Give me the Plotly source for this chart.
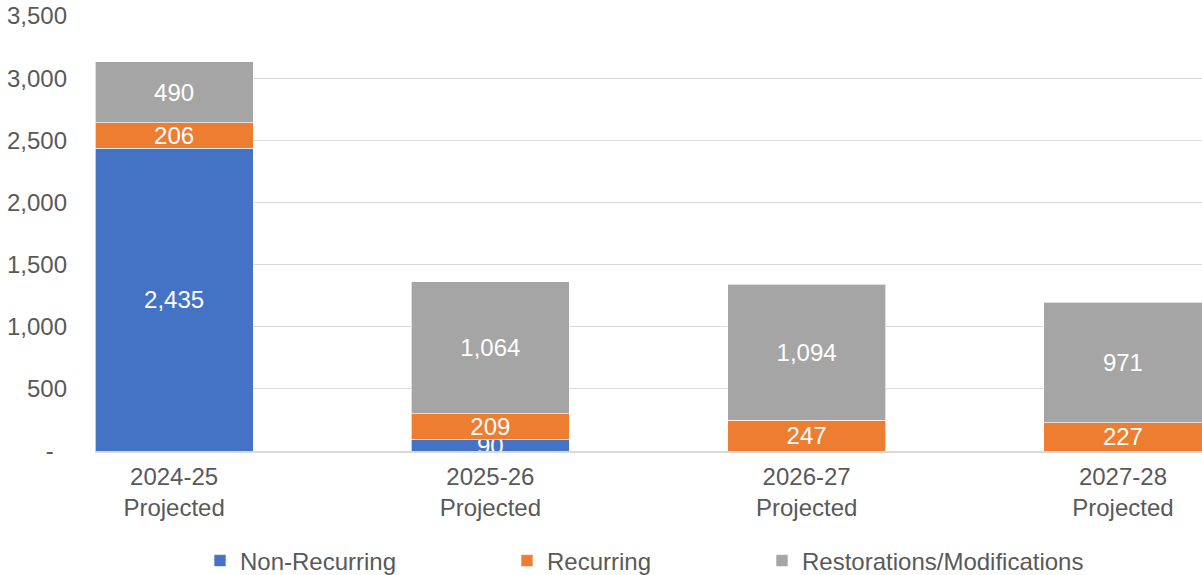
import plotly.graph_objects as go

categories = ["2024-25<br>Projected", "2025-26<br>Projected", "2026-27<br>Projected", "2027-28<br>Projected"]
non_recurring = [2435, 90, 0, 0]
recurring = [206, 209, 247, 227]
restorations = [490, 1064, 1094, 971]

series_names = ["Non-Recurring", "Recurring", "Restorations/Modifications"]
series_colors = ["#4472C4", "#ED7D31", "#A5A5A5"]
series_values = [non_recurring, recurring, restorations]

y_tickvals = [0, 500, 1000, 1500, 2000, 2500, 3000, 3500]
y_ticktext = ["-\u00a0\u00a0", "500", "1,000", "1,500", "2,000", "2,500", "3,000", "3,500"]

FONT = "Liberation Sans, Arial, sans-serif"
FS = 24
W, H = 1202, 575

legend_text_px = [238, 545, 800]
legend_names = ["legend", "legend2", "legend3"]

fig = go.Figure()
for name, color, vals, lg in zip(series_names, series_colors, series_values, legend_names):
    fig.add_trace(go.Bar(
        x=list(range(len(categories))),
        y=vals,
        name=name,
        legend=lg,
        marker=dict(color=color, line=dict(color="rgba(255,255,255,0.8)", width=0.8)),
        text=[f"{v:,}" if v else "" for v in vals],
        textposition="inside",
        insidetextanchor="middle",
        constraintext="none",
        textangle=0,
        textfont=dict(color="white", size=FS, family=FONT),
        cliponaxis=True,
        width=0.5,
    ))

fig.update_layout(
    barmode="stack",
    width=W, height=H,
    margin=dict(l=95, r=0, t=16, b=124),
    paper_bgcolor="white",
    plot_bgcolor="white",
    font=dict(family=FONT, size=FS, color="#595959"),
    xaxis=dict(
        tickmode="array",
        tickvals=list(range(len(categories))),
        ticktext=categories,
        range=[-0.25, 3.25],
        showgrid=False,
        showline=True,
        linecolor="#D9D9D9",
        linewidth=2,
        ticks="",
        tickfont=dict(size=FS, color="#595959"),
        ticklabelstandoff=3,
        zeroline=False,
    ),
    yaxis=dict(
        range=[0, 3500],
        tickmode="array",
        tickvals=y_tickvals,
        ticktext=y_ticktext,
        showgrid=True,
        gridcolor="#D9D9D9",
        gridwidth=1,
        zeroline=False,
        showline=False,
        ticks="",
        tickfont=dict(size=FS, color="#595959"),
        ticklabelstandoff=27,
    ),
    showlegend=True,
)

for lg, px in zip(legend_names, legend_text_px):
    fig.update_layout({lg: dict(
        xref="container", yref="container",
        x=(px - 38) / W, xanchor="left",
        y=1 - 561 / H, yanchor="middle",
        orientation="h",
        font=dict(size=FS, color="#595959", family=FONT),
        bgcolor="rgba(0,0,0,0)",
        borderwidth=0,
        itemclick=False,
    )})

fig.write_html("out.html")
